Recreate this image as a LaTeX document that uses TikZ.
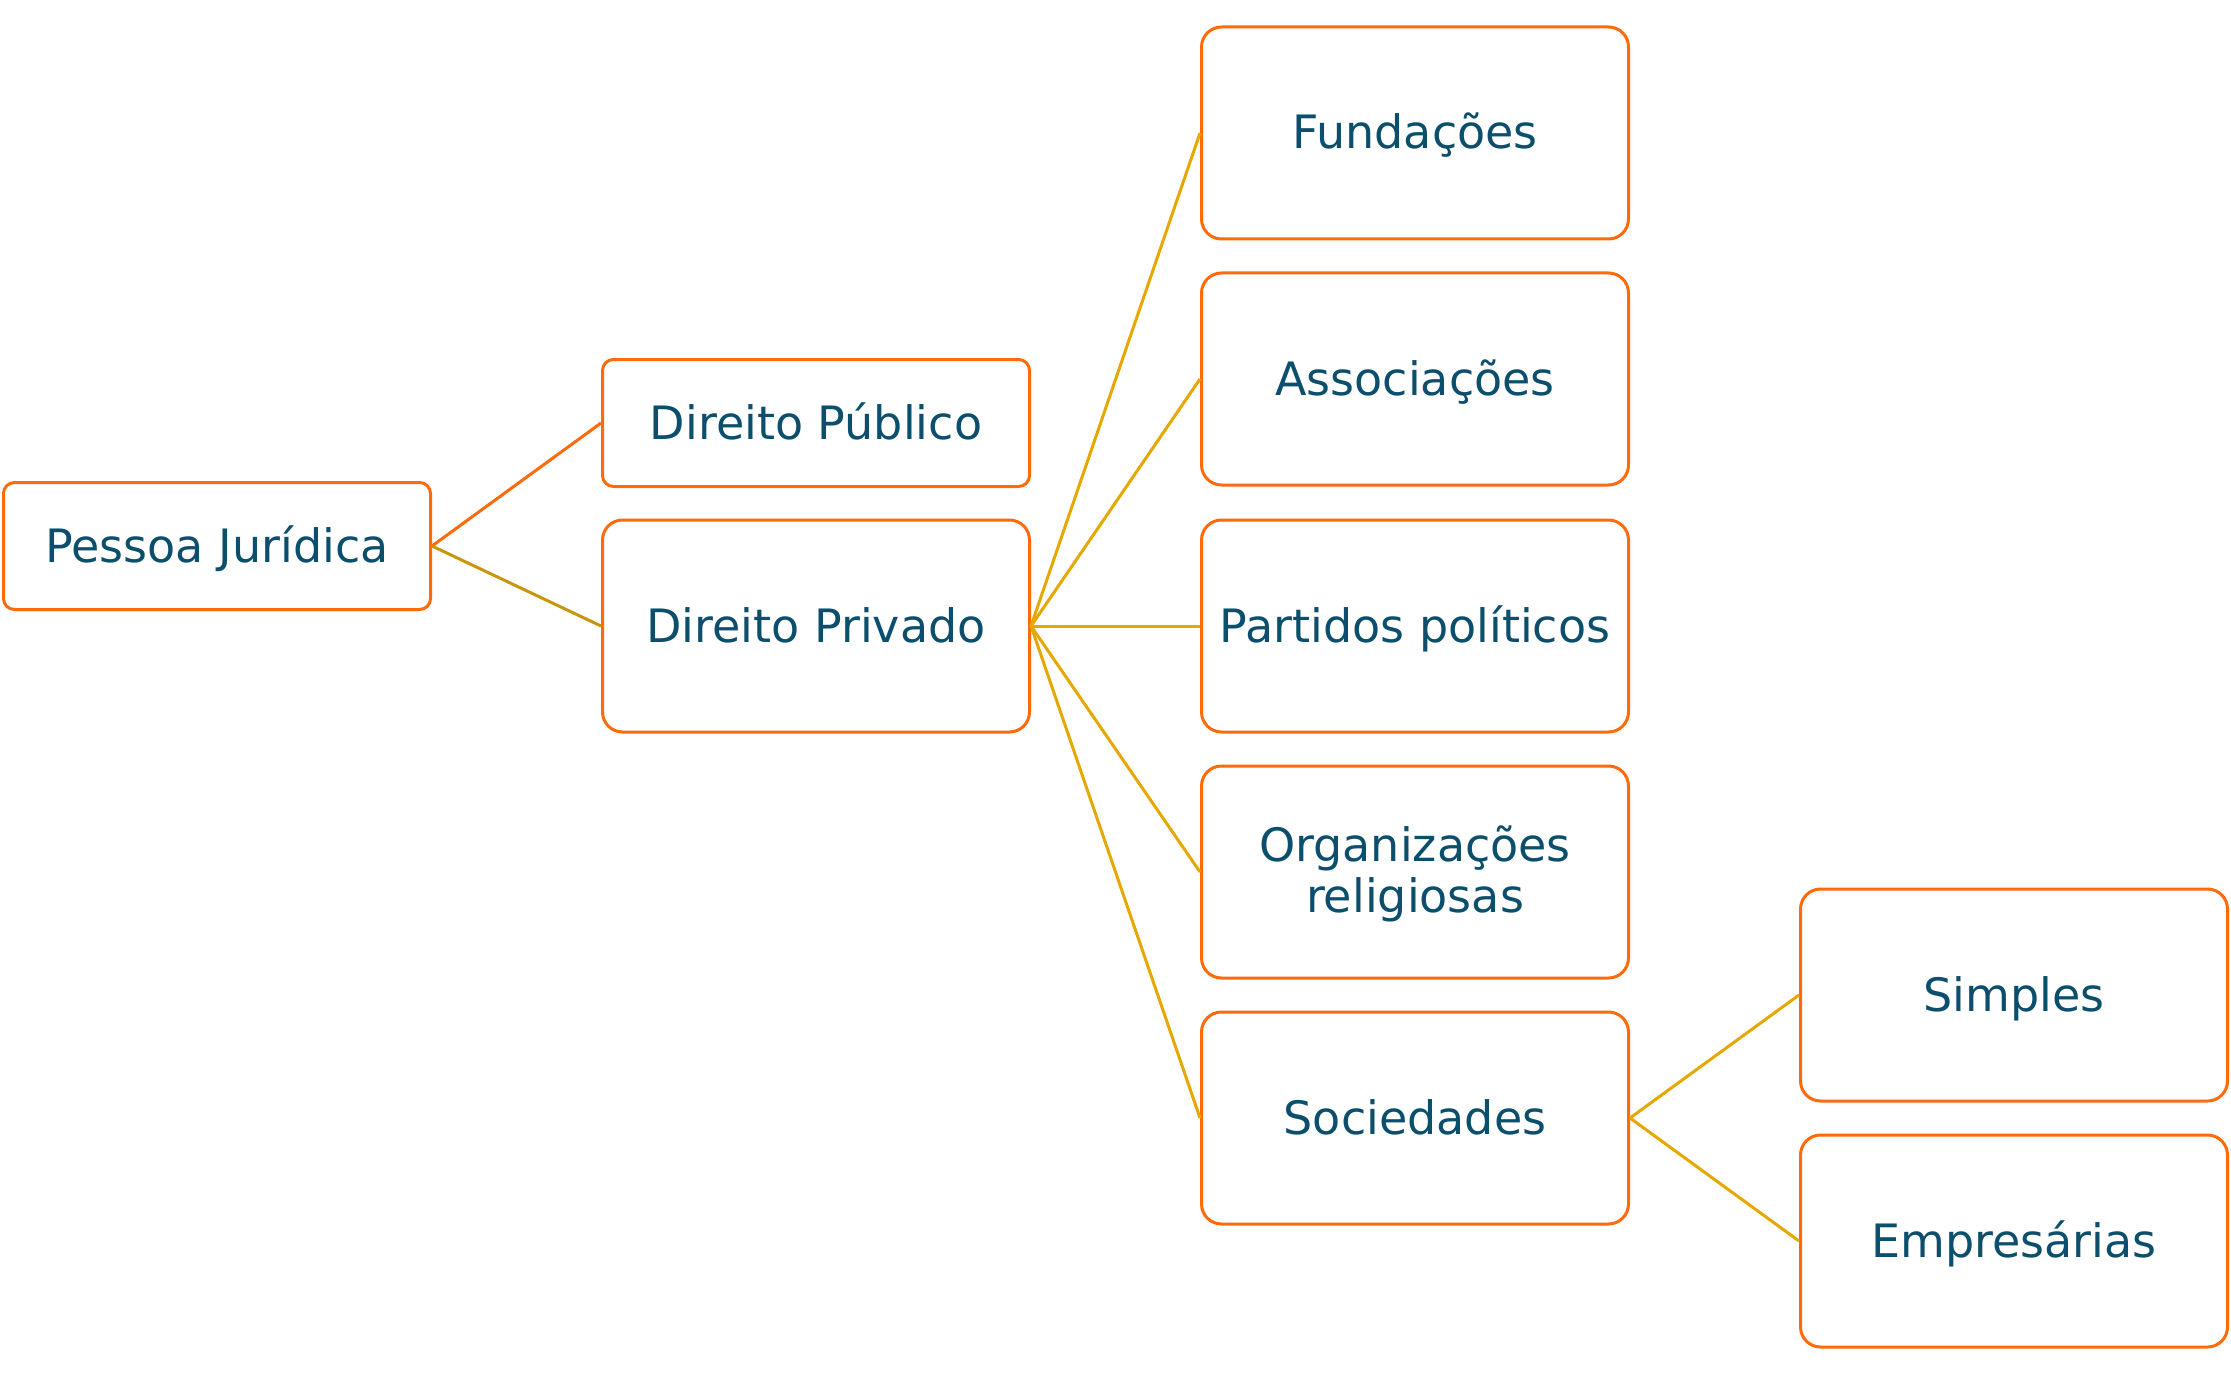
\documentclass[tikz,border=0pt]{standalone}
\usepackage{fontspec}
\setmainfont{DejaVu Sans}
\definecolor{borderor}{HTML}{FF6A0A}
\definecolor{txtblue}{HTML}{0B4F6C}
\definecolor{linkor}{HTML}{FF6A0A}
\definecolor{linkgold}{HTML}{C8960A}
\definecolor{linkamber}{HTML}{E6A800}
\tikzset{
  box/.style={draw=borderor, line width=3pt, fill=white, text=txtblue,
    minimum width=427pt, inner sep=0pt,
    text height=34pt, text depth=2pt,
    font=\fontsize{46}{51}\selectfont},
  tallbox/.style={box, minimum height=212pt, rounded corners=20pt},
  shortbox/.style={box, minimum height=127pt, rounded corners=11pt},
  twoline/.style={text height=40pt, text depth=62pt},
  conn/.style={line width=3pt},
}
\begin{document}
\begin{tikzpicture}[x=1pt,y=-1pt]
\useasboundingbox (0,0) rectangle (2231,1375);
\node[shortbox] (pj)  at (217,546)  {Pessoa Jurídica};
\node[shortbox] (pub) at (816,423)  {Direito Público};
\node[tallbox]  (priv) at (816,626) {Direito Privado};
\node[tallbox]  (fund) at (1415,133) {Fundações};
\node[tallbox]  (assoc) at (1415,379) {Associações};
\node[tallbox]  (part) at (1415,626) {Partidos políticos};
\node[tallbox, twoline]  (org) at (1415,872) {\begin{tabular}[t]{@{}c@{}}Organizações\\religiosas\end{tabular}};
\node[tallbox]  (soc) at (1415,1118) {Sociedades};
\node[tallbox]  (simp) at (2014,995) {Simples};
\node[tallbox]  (emp) at (2014,1241) {Empresárias};
\draw[conn, linkor] (pj.east) -- (pub.west);
\draw[conn, linkgold] (pj.east) -- (priv.west);
\foreach \t in {fund,assoc,part,org,soc}
  \draw[conn, linkamber] (priv.east) -- (\t.west);
\draw[conn, linkamber] (soc.east) -- (simp.west);
\draw[conn, linkamber] (soc.east) -- (emp.west);
\end{tikzpicture}
\end{document}
